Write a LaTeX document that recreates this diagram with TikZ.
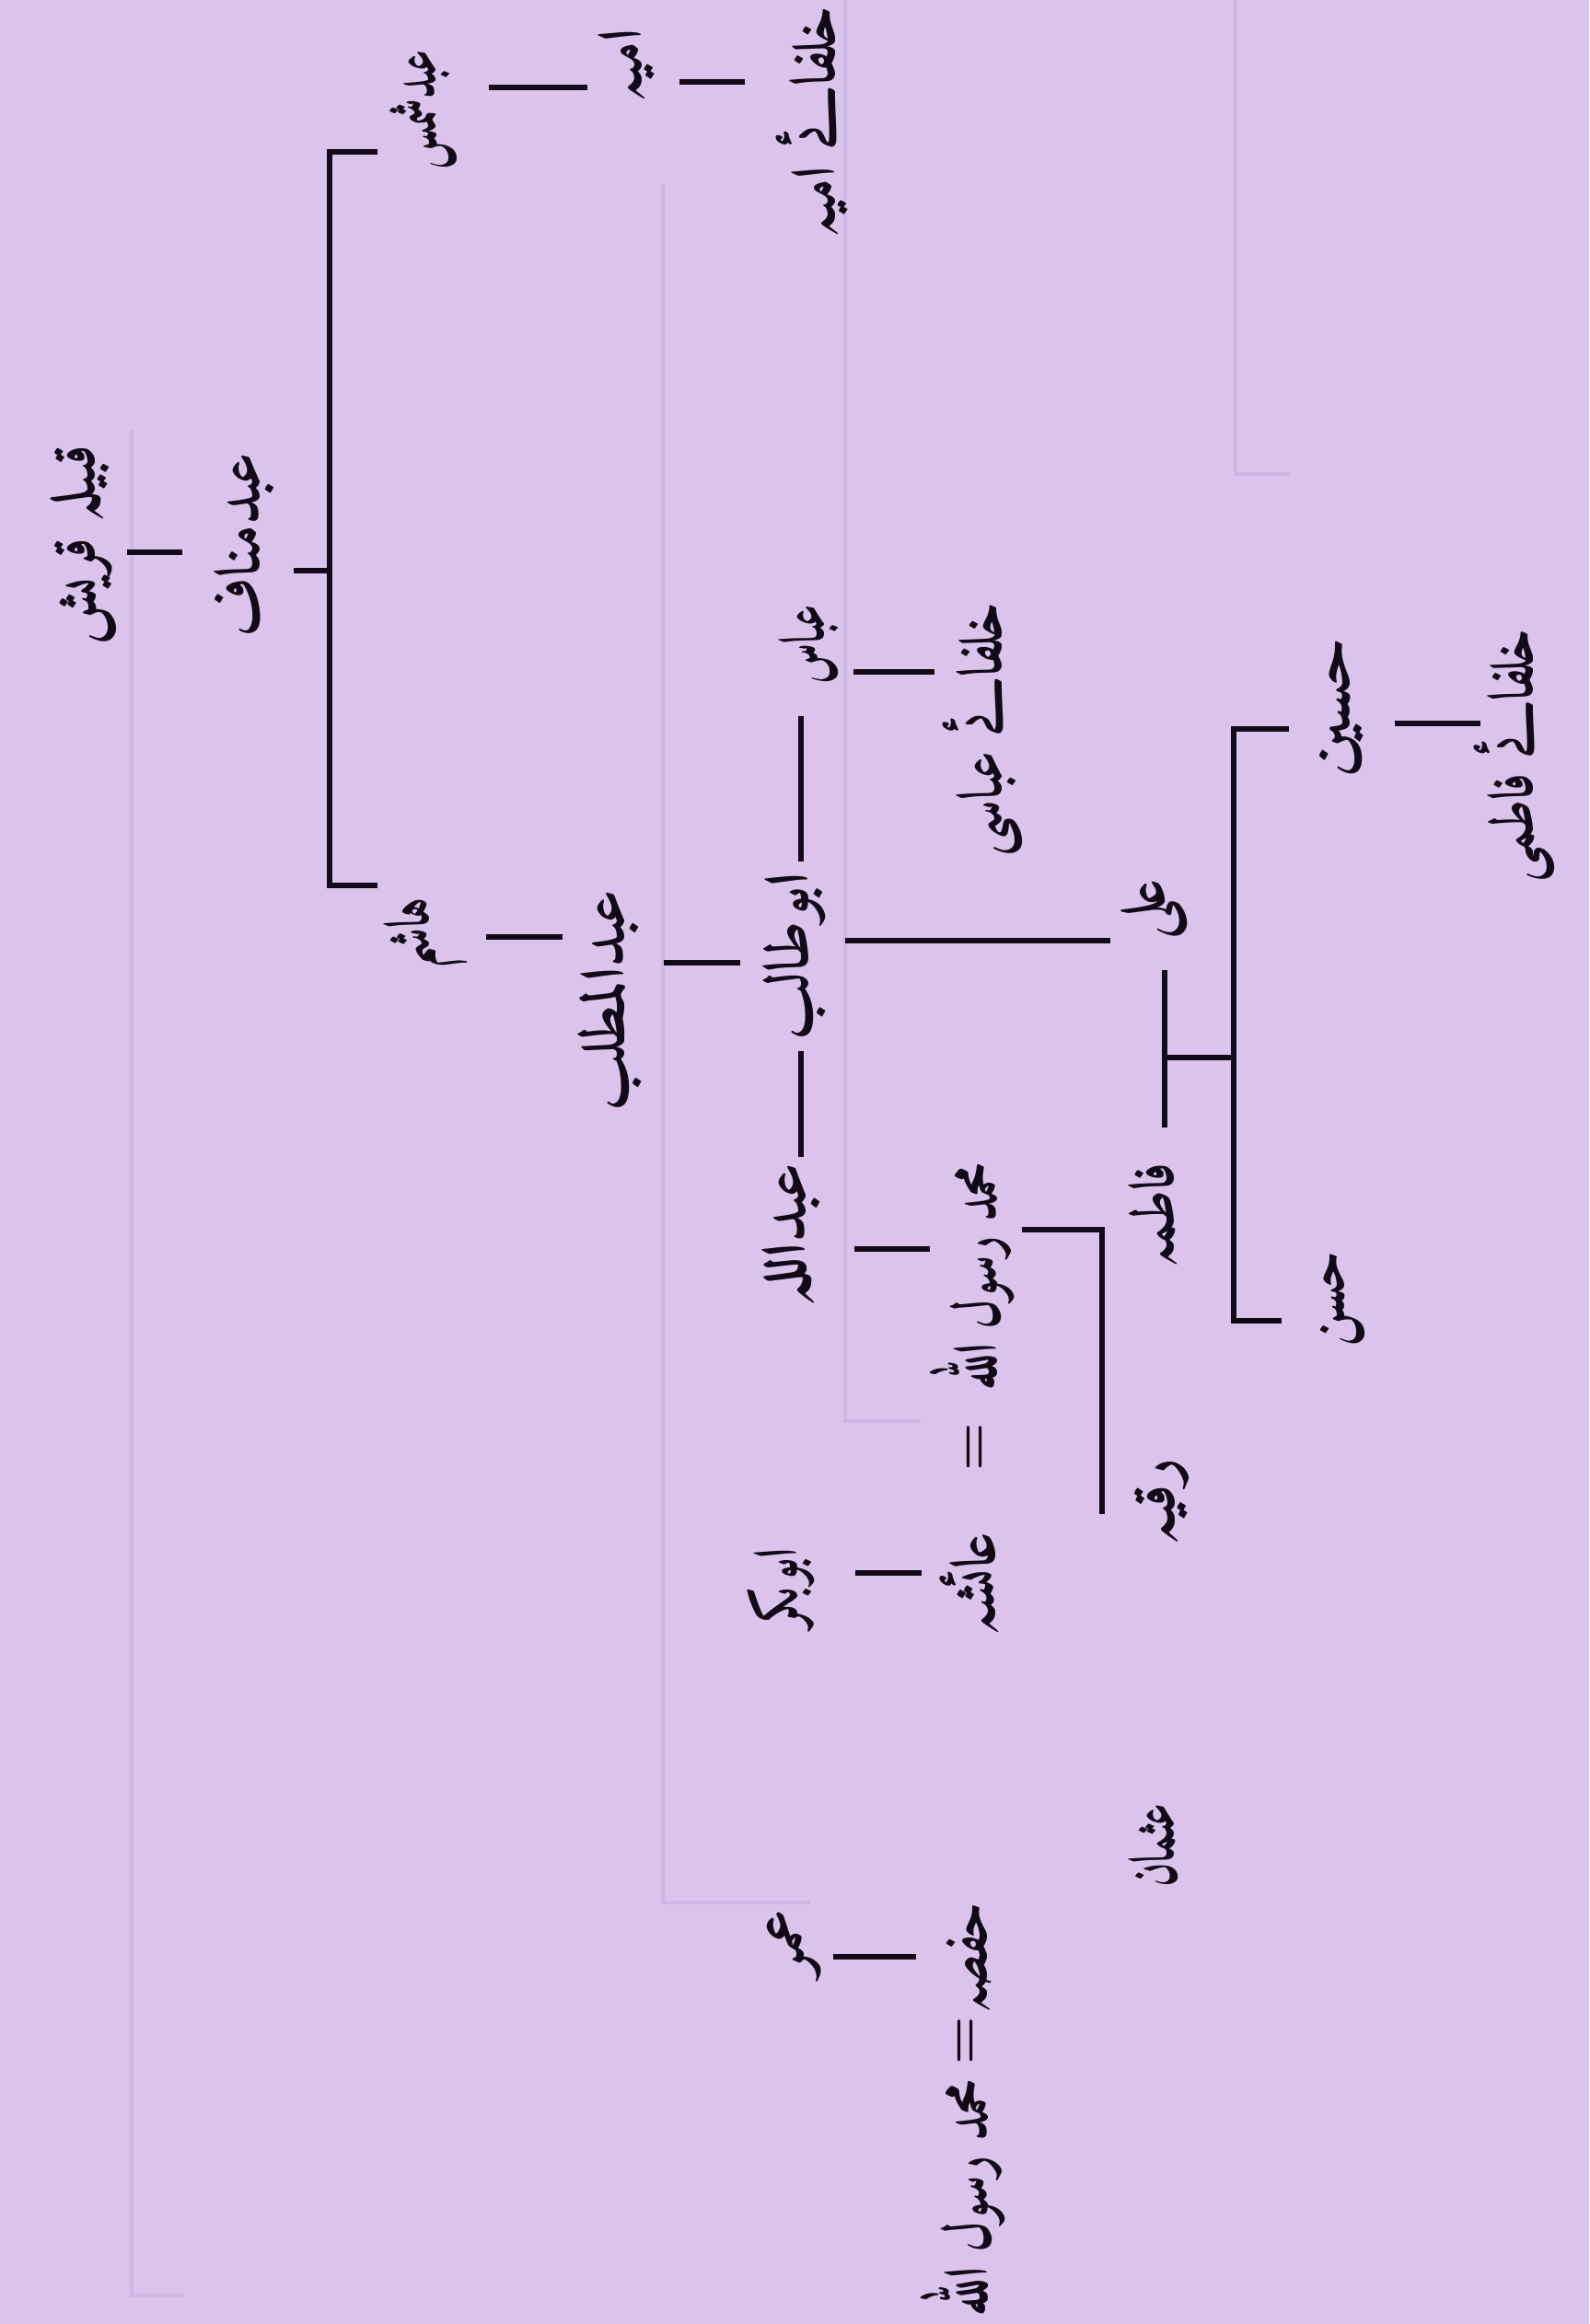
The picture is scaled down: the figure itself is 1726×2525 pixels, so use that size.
\documentclass[tikz,border=0pt]{standalone}
\usepackage{graphicx}
\usepackage{fontspec}
\IfFontExistsTF{Amiri-Bold.ttf}
  {\newfontfamily\urdu[Script=Arabic]{Amiri-Bold.ttf}}
  {\IfFontExistsTF{Amiri-Regular.ttf}
    {\newfontfamily\urdu[Script=Arabic]{Amiri-Regular.ttf}}
    {\newfontfamily\urdu[Script=Arabic]{DejaVu Sans}}}
\TeXXeTstate=1
\definecolor{paper}{RGB}{218,196,236}
\definecolor{ghost}{RGB}{203,184,228}
\definecolor{ink}{RGB}{18,10,24}
% #1 = length of the written name (pt), #2 = name
\newcommand{\ur}[2]{\resizebox{#1pt}{\height}{\urdu #2}}
\begin{document}
\begin{tikzpicture}[x=0.5pt,y=-0.5pt,
  nm/.style={font=\fontsize{33}{38}\selectfont, rotate=90, inner sep=0pt, text=ink},
  eq/.style={font=\fontsize{30}{34}\selectfont\bfseries, rotate=90, inner sep=0pt, text=ink},
  conn/.style={draw=ink, line width=2.6pt},
  faint/.style={draw=ghost, line width=1.6pt}]
\fill[paper] (0,0) rectangle (1726,2525);
\useasboundingbox (0,0) rectangle (1726,2525);

% faint show-through of the reverse page
\draw[faint] (143,467) -- (143,2494) -- (200,2494);
\draw[faint] (720,200) -- (720,2067) -- (880,2067);
\draw[faint] (918,0) -- (918,1544) -- (1000,1544);
\draw[faint] (1342,0) -- (1342,515) -- (1402,515);

% names
\node[nm] (quraish) at (90,592) {\ur{108}{\beginR قبیلہ قریش\endR}};
\node[nm] (manaf) at (265,592) {\ur{100}{\beginR عبدمناف\endR}};
\node[nm] (shams) at (460,120) {\ur{65}{\beginR عبدشمس\endR}};
\node[nm] (umayya) at (680,72) {\ur{40}{\beginR امیہ\endR}};
\node[nm] (khumayya) at (882,133) {\ur{125}{\beginR خلفائے امیہ\endR}};
\node[nm] (hashim) at (462,1014) {\ur{38}{\beginR ہاشم\endR}};
\node[nm] (muttalib) at (663,1087) {\ur{120}{\beginR عبدالمطلب\endR}};
\node[nm] (abbas) at (878,700) {\ur{43}{\beginR عباس\endR}};
\node[nm] (talib) at (862,1039) {\ur{91}{\beginR ابوطالب\endR}};
\node[nm] (abdullah) at (858,1342) {\ur{78}{\beginR عبداللہ\endR}};
\node[nm] (khabbas) at (1068,793) {\ur{137}{\beginR خلفائے عباسی\endR}};
\node[nm] (ali) at (1255,988) {\ur{32}{\beginR علی\endR}};
\node[nm] (fatima) at (1252,1320) {\ur{57}{\beginR فاطمہ\endR}};
\node[nm] (husain) at (1457,768) {\ur{76}{\beginR حسین\endR}};
\node[nm] (khfatimi) at (1645,821) {\ur{137}{\beginR خلفائے فاطمی\endR}};
\node[nm] (hasan) at (1458,1411) {\ur{52}{\beginR حسن\endR}};
\node[nm] (muhammad) at (1055,1387) {\ur{123}{\beginR محمد رسول اللہ\endR}};
\node[eq] (eqa) at (1062,1572) {=};
\node[nm] (aisha) at (1053,1721) {\ur{56}{\beginR عائشہ\endR}};
\node[nm] (abubakr) at (848,1725) {\ur{43}{\beginR ابوبکر\endR}};
\node[nm] (ruqayya) at (1262,1632) {\ur{47}{\beginR رقیہ\endR}};
\node[nm] (usman) at (1252,2005) {\ur{45}{\beginR عثمان\endR}};
\node[nm] (umar) at (862,2111) {\ur{36}{\beginR عمر\endR}};
\node[nm] (hafsa) at (1053,2127) {\ur{60}{\beginR حفصہ\endR}};
\node[eq] (eqb) at (1052,2217) {=};
\node[nm] (muhammadb) at (1045,2388) {\ur{128}{\beginR محمد رسول اللہ\endR}};

% connector end points
\coordinate (a1) at (138,600);  \coordinate (a2) at (198,600);
\coordinate (b0) at (319,620);  \coordinate (bm) at (358,620);
\coordinate (bt) at (410,165);  \coordinate (btc) at (358,165);
\coordinate (bbc) at (358,962); \coordinate (bb) at (410,962);
\coordinate (c1) at (531,95);   \coordinate (c2) at (638,95);
\coordinate (d1) at (738,89);   \coordinate (d2) at (809,89);
\coordinate (e1) at (528,1018); \coordinate (e2) at (611,1018);
\coordinate (f1) at (721,1046); \coordinate (f2) at (804,1046);
\coordinate (g1) at (870,778);  \coordinate (g2) at (870,936);
\coordinate (h1) at (870,1142); \coordinate (h2) at (870,1257);
\coordinate (i1) at (927,730);  \coordinate (i2) at (1015,730);
\coordinate (j1) at (918,1022); \coordinate (j2) at (1206,1022);
\coordinate (k1) at (928,1357); \coordinate (k2) at (1010,1357);
\coordinate (m0) at (1110,1336); \coordinate (mc) at (1197,1336);
\coordinate (mb) at (1197,1645);
\coordinate (n1) at (1265,1054); \coordinate (n2) at (1265,1225);
\coordinate (nm1) at (1265,1149); \coordinate (nm2) at (1340,1149);
\coordinate (pt) at (1400,792);  \coordinate (ptc) at (1340,792);
\coordinate (pbc) at (1340,1435); \coordinate (pb) at (1392,1435);
\coordinate (q1) at (1515,786);  \coordinate (q2) at (1608,786);
\coordinate (r1) at (929,1709);  \coordinate (r2) at (1001,1709);
\coordinate (s1) at (905,2126);  \coordinate (s2) at (995,2126);

% connectors
\draw[conn] (a1) -- (a2);
\draw[conn] (b0) -- (bm);
\draw[conn] (bt) -- (btc) -- (bbc) -- (bb);
\draw[conn] (c1) -- (c2);
\draw[conn] (d1) -- (d2);
\draw[conn] (e1) -- (e2);
\draw[conn] (f1) -- (f2);
\draw[conn] (g1) -- (g2);
\draw[conn] (h1) -- (h2);
\draw[conn] (i1) -- (i2);
\draw[conn] (j1) -- (j2);
\draw[conn] (k1) -- (k2);
\draw[conn] (m0) -- (mc) -- (mb);
\draw[conn] (n1) -- (n2);
\draw[conn] (nm1) -- (nm2);
\draw[conn] (pt) -- (ptc) -- (pbc) -- (pb);
\draw[conn] (q1) -- (q2);
\draw[conn] (r1) -- (r2);
\draw[conn] (s1) -- (s2);
\end{tikzpicture}
\end{document}
